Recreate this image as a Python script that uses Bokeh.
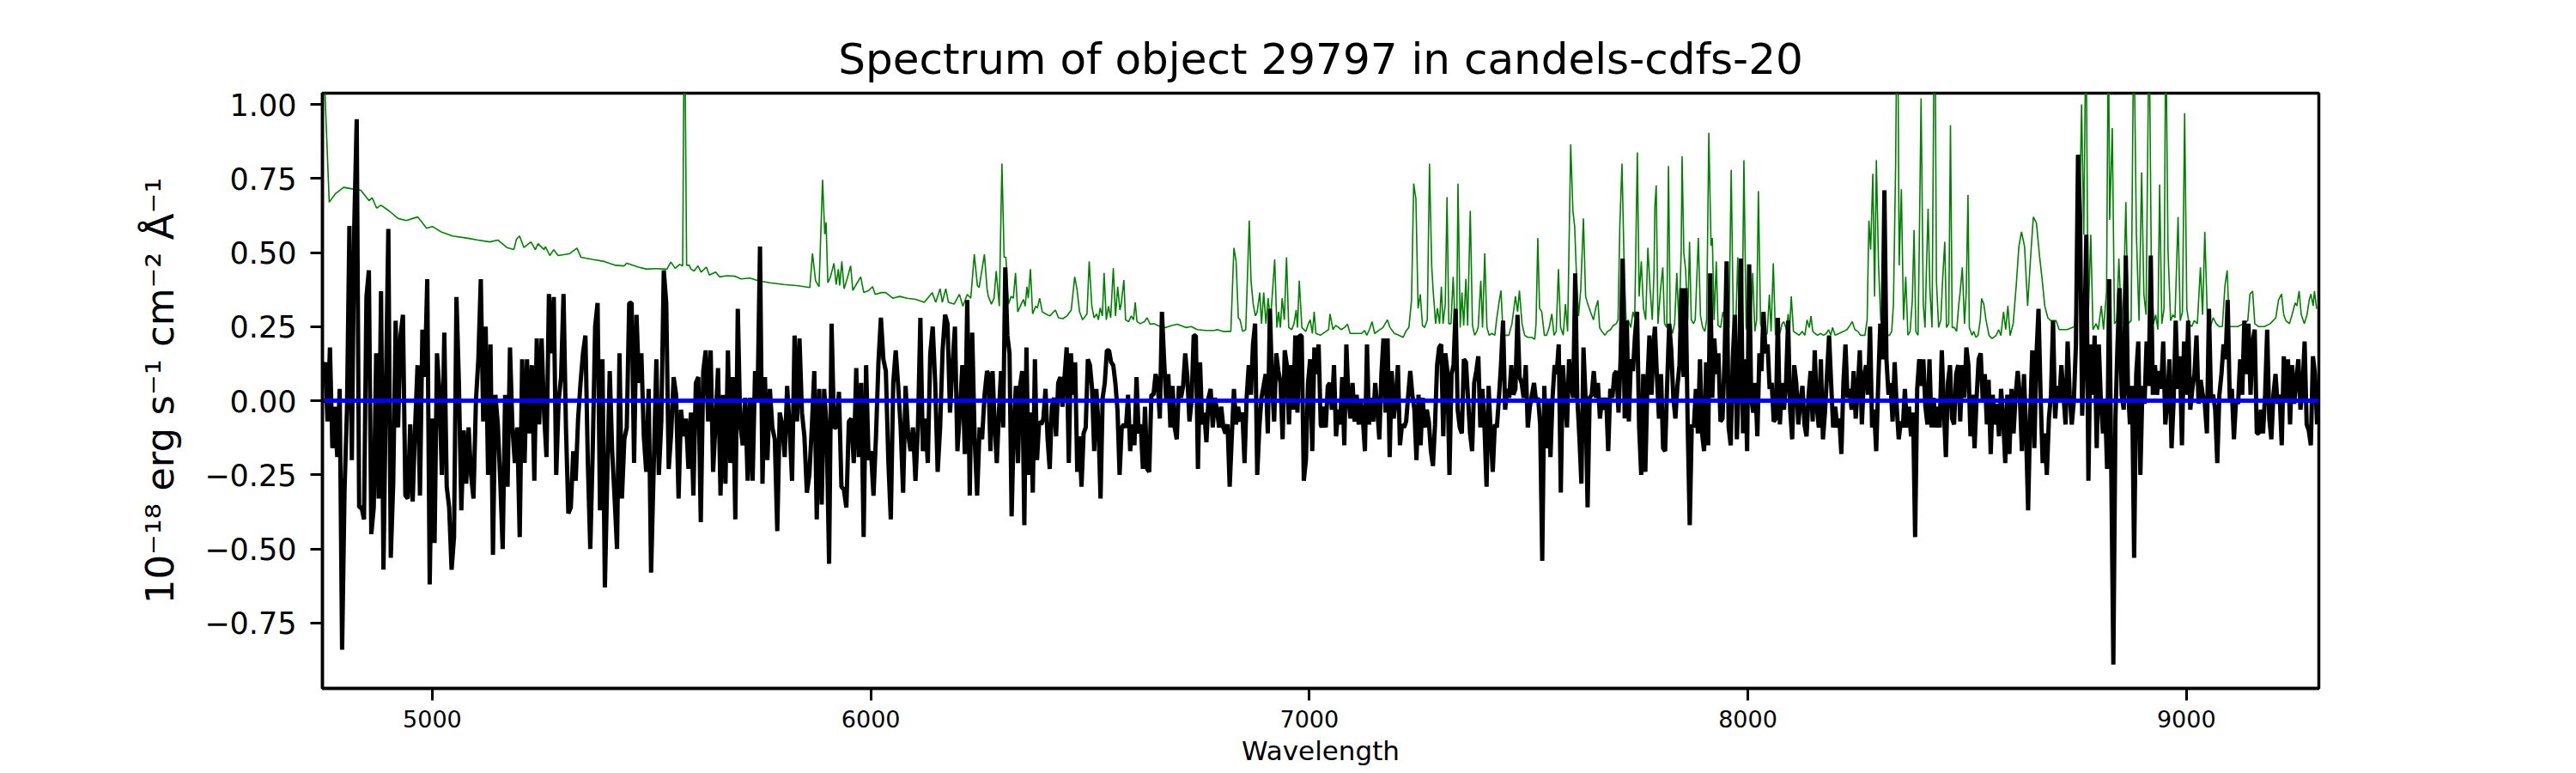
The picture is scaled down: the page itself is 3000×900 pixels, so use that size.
import numpy as np
from bokeh.plotting import figure
from bokeh.models import Range1d, FixedTicker, CustomJSTickFormatter
from bokeh.embed import file_html
from bokeh.resources import INLINE

FONT = "DejaVu Sans"
TITLE = "Spectrum of object 29797 in candels-cdfs-20"
X_LABEL = "Wavelength"
Y_LABEL = "10\u207b\u00b9\u2078 erg s\u207b\u00b9 cm\u207b\u00b2 \u00c5\u207b\u00b9"
X_TICKS = [5000, 6000, 7000, 8000, 9000]
Y_TICKS = [-0.75, -0.5, -0.25, 0.0, 0.25, 0.5, 0.75, 1.0]

# observed flux (black), read segment by segment; wavelength bounds of each segment
seg_bounds = [(4750, 5499), (5511, 6265), (6268, 7026), (7028, 7785), (7788, 8545), (8549, 9298)]

flux_seg1 = [0.09, 0.13, -0.07, 0.18, -0.16, -0.02, -0.19, 0.04, -0.84, -0.30, -0.03, 0.59, -0.20, 0.59, 0.95,
             -0.36, -0.36, -0.40, 0.35, 0.44, -0.45, -0.36, 0.16, -0.33, 0.37, -0.57, 0.04, 0.58, -0.53, -0.28,
             0.27, -0.09, 0.22, 0.29, -0.32, -0.33, -0.08, -0.34, -0.09, 0.12, -0.32, 0.24, 0.08, 0.41, -0.62,
             -0.06, -0.48, 0.16, 0.03, -0.25, 0.23, -0.29, -0.36, -0.57, -0.46, 0.35, 0.06, -0.37, -0.10, -0.28,
             -0.09, -0.25, -0.33, 0.00, 0.14, 0.41, -0.07, 0.25, -0.25, 0.19, -0.52, 0.02, -0.08, -0.27, -0.50,
             0.02, -0.29, 0.18, -0.09, -0.21, -0.09, -0.46, 0.14, -0.21, 0.14, -0.11, 0.12, -0.27, 0.21, -0.08,
             0.21, -0.04, -0.19, 0.36, 0.16, 0.35, -0.25, 0.00, 0.08, 0.36, -0.09, -0.38, -0.36, -0.17, -0.27,
             -0.06, 0.06, 0.16, 0.22, -0.21, -0.50, -0.17, 0.25, 0.33, -0.37, 0.14, -0.63, -0.25, 0.10, -0.17,
             -0.33, -0.50, 0.16, -0.33, -0.13, -0.09, 0.33, 0.33, -0.21, 0.29, 0.06, 0.16, -0.12, -0.24, 0.04,
             -0.58]
flux_seg2 = [0.14, -0.25, -0.07, 0.44, 0.33, -0.23, -0.11, 0.08, 0.02, -0.33, -0.03, -0.12, -0.06, -0.23, -0.04,
             -0.32, 0.06, 0.08, -0.41, 0.10, 0.17, -0.07, 0.17, -0.24, -0.07, 0.11, -0.32, 0.02, -0.28, 0.17,
             -0.21, 0.08, -0.40, 0.31, -0.08, -0.15, 0.01, -0.27, 0.01, -0.27, 0.10, 0.00, 0.52, -0.28, 0.08,
             -0.20, 0.04, -0.09, -0.13, -0.44, -0.04, -0.08, -0.19, 0.05, -0.09, -0.27, 0.22, -0.07, 0.21, -0.04,
             -0.12, -0.31, -0.25, -0.09, 0.10, -0.40, 0.04, -0.35, 0.04, -0.09, -0.55, 0.26, -0.09, -0.09, 0.03,
             -0.29, -0.30, -0.36, -0.07, -0.06, -0.21, 0.11, -0.19, 0.06, -0.46, 0.12, -0.20, -0.17, -0.32, -0.12,
             0.13, 0.28, 0.14, 0.10, -0.20, -0.40, 0.06, 0.17, 0.05, -0.09, -0.31, 0.05, -0.11, -0.17, -0.09,
             -0.27, -0.09, 0.28, -0.17, -0.06, -0.21, 0.16, 0.25, 0.06, -0.24, -0.09, 0.17, 0.29, 0.26, -0.04,
             0.12, 0.25, -0.17, -0.04, 0.12, -0.18, 0.34, -0.32, 0.23, -0.13, -0.32, -0.09, -0.13, 0.02, 0.10]
flux_seg3 = [0.09, -0.17, 0.10, -0.08, -0.21, -0.04, 0.10, -0.09, 0.45, 0.22, 0.16, -0.39, -0.09, 0.05, -0.21,
             0.05, 0.10, -0.42, 0.18, -0.25, -0.04, -0.31, 0.14, -0.20, -0.07, -0.08, -0.06, 0.04, -0.13, -0.23,
             -0.02, 0.01, -0.12, 0.06, 0.08, -0.02, 0.08, 0.18, -0.21, 0.16, 0.02, 0.13, -0.24, -0.12, -0.29,
             -0.11, -0.09, 0.14, 0.12, 0.04, -0.17, 0.04, -0.08, -0.33, 0.01, 0.06, 0.17, 0.17, 0.13, 0.12,
             0.06, -0.03, -0.25, -0.09, -0.08, -0.09, 0.02, -0.17, -0.08, -0.15, 0.08, -0.11, -0.08, -0.23, -0.02,
             -0.23, -0.24, 0.02, 0.02, 0.09, 0.06, -0.06, 0.30, 0.14, 0.00, 0.09, -0.09, 0.05, -0.09, -0.13,
             0.05, 0.01, 0.05, 0.16, 0.08, -0.07, 0.00, 0.22, 0.22, -0.23, 0.13, -0.08, -0.04, -0.14, 0.01,
             0.04, -0.09, 0.01, -0.03, -0.09, -0.02, -0.09, -0.11, -0.08, -0.29, -0.12, 0.04, -0.08, -0.02, -0.07,
             -0.04, -0.21, 0.01, 0.12, 0.02, 0.19, 0.26, -0.25, -0.09, 0.01, 0.05, 0.09, -0.11, 0.31, 0.06,
             -0.07, 0.16, 0.10, 0.06, -0.13, 0.17, 0.12, -0.08, 0.12, -0.03, 0.22, -0.04, 0.22, 0.22, -0.27,
             -0.20, 0.06, 0.14, -0.17, 0.18, 0.09, 0.19, -0.08]
flux_seg4 = [-0.09, -0.02, -0.09, 0.05, 0.06, -0.03, 0.12, -0.12, -0.03, -0.08, 0.08, -0.15, 0.19, 0.01, -0.06,
             0.06, -0.07, 0.02, -0.08, 0.00, -0.06, -0.17, 0.19, -0.08, 0.01, -0.07, 0.06, -0.03, -0.13, 0.09,
             0.21, -0.04, 0.21, -0.19, 0.10, -0.06, 0.01, 0.12, -0.15, -0.08, -0.09, -0.07, 0.02, 0.10, 0.02,
             -0.03, -0.20, 0.02, -0.15, 0.01, -0.09, -0.03, -0.07, -0.17, -0.22, -0.08, 0.12, 0.18, 0.19, -0.12,
             0.16, 0.10, -0.25, 0.09, 0.12, 0.31, -0.03, -0.09, -0.11, 0.14, 0.13, 0.01, -0.11, -0.17, 0.06,
             0.10, 0.15, -0.09, 0.04, -0.09, -0.29, 0.05, -0.11, -0.24, -0.08, -0.09, 0.01, 0.12, 0.27, -0.03,
             0.04, 0.01, 0.12, 0.02, 0.04, 0.29, 0.08, 0.06, 0.01, 0.12, -0.09, -0.02, 0.02, 0.06, 0.00,
             0.01, -0.08, -0.54, 0.05, -0.16, 0.00, -0.19, 0.01, 0.12, 0.09, 0.19, -0.31, 0.12, 0.01, -0.09,
             0.14, 0.06, 0.01, 0.43, 0.01, -0.12, -0.28, 0.18, 0.01, -0.36, 0.01, 0.02, 0.10, 0.01, 0.06,
             -0.06, 0.01, -0.03, 0.01, -0.17, 0.04, 0.01, 0.09, 0.10, -0.04, 0.14, 0.48, -0.06, 0.27, -0.07,
             0.14, 0.10, 0.22, 0.30, -0.09, -0.25, 0.09, -0.24, 0.06, 0.22, 0.02, 0.19]
flux_seg5 = [0.25, 0.08, -0.06, 0.09, -0.16, -0.17, 0.06, 0.26, 0.17, 0.01, -0.06, 0.05, 0.12, 0.38, 0.08,
             0.38, -0.08, -0.42, -0.08, -0.09, 0.04, -0.11, 0.14, -0.11, -0.17, 0.13, -0.15, 0.43, 0.01, 0.21,
             0.09, 0.16, -0.07, -0.06, 0.14, 0.47, -0.09, -0.15, 0.14, 0.29, -0.13, 0.06, 0.48, -0.11, 0.14,
             -0.17, 0.46, 0.01, -0.04, 0.06, -0.12, 0.16, 0.10, 0.30, 0.16, 0.19, 0.04, 0.06, -0.07, -0.06,
             0.28, -0.08, 0.06, -0.03, 0.06, 0.27, -0.03, -0.13, 0.12, 0.06, -0.08, 0.00, 0.05, -0.08, -0.12,
             0.02, 0.10, -0.07, 0.17, -0.02, -0.09, 0.14, -0.13, -0.04, 0.09, 0.22, 0.06, -0.09, -0.02, -0.09,
             -0.06, -0.18, 0.06, 0.19, 0.01, 0.04, -0.03, 0.10, -0.06, 0.04, 0.17, -0.08, 0.08, 0.12, 0.02,
             0.25, -0.09, -0.03, -0.17, 0.06, 0.26, 0.14, 0.71, 0.14, 0.02, 0.06, -0.07, 0.13, -0.02, -0.13,
             -0.07, -0.09, 0.04, -0.09, -0.02, -0.12, -0.04, -0.46, 0.04, 0.14, 0.05, 0.14, -0.02, -0.08, 0.14,
             -0.09, 0.01, -0.09, -0.02, -0.09, 0.17, -0.02, -0.19, 0.06, 0.12, -0.06, -0.08, 0.09, 0.12, -0.07,
             0.12, 0.01, 0.18, 0.12, -0.12, 0.02, -0.16, 0.01, 0.14, 0.16, 0.00, 0.09, -0.08]
flux_seg6 = [0.07, -0.18, 0.02, -0.08, -0.01, -0.12, 0.04, -0.06, -0.21, 0.02, -0.18, 0.04, -0.11, 0.02, 0.10,
             0.02, -0.17, 0.09, -0.10, -0.37, -0.05, 0.17, -0.16, 0.15, 0.31, 0.02, -0.21, -0.11, -0.25, -0.06,
             0.02, 0.27, -0.06, 0.05, 0.00, 0.12, 0.02, -0.08, 0.20, 0.02, -0.08, 0.00, 0.19, 0.83, 0.62,
             -0.05, 0.19, 0.56, -0.27, 0.19, 0.02, 0.22, -0.16, 0.19, 0.00, -0.11, 0.00, -0.23, 0.41, -0.23,
             -0.89, -0.06, 0.19, 0.38, 0.02, -0.03, 0.49, 0.05, -0.08, 0.05, -0.53, 0.09, 0.20, -0.25, 0.05,
             -0.01, 0.20, 0.05, 0.49, 0.02, 0.12, 0.02, 0.10, 0.04, 0.20, -0.08, 0.00, 0.14, -0.16, 0.00,
             0.27, 0.04, 0.15, -0.15, 0.20, 0.02, 0.27, -0.03, 0.04, 0.09, 0.22, -0.01, 0.07, 0.02, -0.01,
             -0.11, 0.31, 0.00, 0.02, -0.03, -0.21, 0.02, 0.09, 0.19, 0.14, 0.34, 0.00, 0.04, -0.13, 0.00,
             -0.01, 0.14, 0.02, 0.27, 0.09, 0.26, 0.02, 0.20, 0.24, -0.11, -0.11, -0.03, -0.11, 0.02, 0.24,
             -0.06, -0.13, 0.02, 0.09, -0.01, 0.02, -0.15, 0.15, 0.00, 0.14, -0.08, 0.12, -0.01, 0.07, 0.14,
             -0.03, 0.04, 0.20, -0.08, -0.10, -0.15, 0.15, 0.09, -0.08]
flux_segments = [flux_seg1, flux_seg2, flux_seg3, flux_seg4, flux_seg5, flux_seg6]

# noise / sky spectrum (green): wavelength and value pairs
green_wave = [4750, 4755, 4765, 4780, 4798, 4817, 4837, 4856, 4863, 4873, 4883, 4902, 4922, 4941, 4955, 4967,
              4987, 5000, 5020, 5046, 5078, 5104, 5131, 5150, 5170, 5186, 5192, 5199, 5209, 5225, 5235, 5241,
              5255, 5258, 5268, 5277, 5287, 5313, 5330, 5339, 5365, 5392, 5418, 5437, 5444, 5470, 5489, 5508,
              5535, 5544, 5554, 5564, 5571, 5575, 5580, 5586, 5590, 5597, 5606, 5613, 5625, 5632, 5646, 5655,
              5672, 5691, 5704, 5724, 5743, 5770, 5802, 5835, 5861, 5867, 5874, 5882, 5890, 5895, 5898, 5902,
              5908, 5916, 5921, 5926, 5929, 5934, 5939, 5946, 5954, 5959, 5969, 5977, 5984, 5995, 6004, 6010,
              6024, 6034, 6050, 6066, 6083, 6102, 6122, 6140, 6148, 6158, 6163, 6171, 6177, 6190, 6202, 6210,
              6220, 6228, 6236, 6243, 6247, 6259, 6265,
              6268, 6275, 6281, 6286, 6293, 6299, 6304, 6308, 6314, 6320, 6325, 6330, 6335, 6343, 6348, 6352,
              6356, 6359, 6364, 6369, 6376, 6380, 6385, 6391, 6399, 6408, 6417, 6421, 6428, 6438, 6447, 6457,
              6465, 6470, 6476, 6483, 6493, 6498, 6504, 6509, 6515, 6519, 6523, 6528, 6532, 6537, 6542, 6547,
              6553, 6558, 6563, 6568, 6571, 6577, 6581, 6588, 6594, 6599, 6603, 6607, 6614, 6624, 6630, 6637,
              6646, 6660, 6673, 6686, 6699, 6718, 6731, 6744, 6764, 6784, 6790, 6803, 6821, 6828, 6833, 6838,
              6842, 6848, 6855, 6863, 6867, 6872, 6877, 6881, 6887, 6891, 6896, 6901, 6906, 6911, 6915, 6921,
              6926, 6930, 6934, 6938, 6943, 6948, 6953, 6960, 6965, 6970, 6973, 6977, 6983, 6992, 6998, 7002,
              7007, 7011, 7015, 7025,
              7038, 7044, 7047, 7054, 7060, 7067, 7073, 7080, 7087, 7093, 7106, 7119, 7126, 7131, 7137, 7143,
              7149, 7158, 7168, 7178, 7184, 7194, 7204, 7214, 7220, 7227, 7233, 7238, 7243, 7248, 7253, 7258,
              7263, 7269, 7274, 7279, 7282, 7288, 7292, 7297, 7301, 7305, 7310, 7314, 7318, 7323, 7328, 7332,
              7336, 7339, 7344, 7348, 7352, 7357, 7361, 7367, 7372, 7377, 7382, 7385, 7391, 7395, 7400, 7405,
              7410, 7416, 7423, 7427, 7432, 7437, 7442, 7449, 7455, 7462, 7466, 7470, 7475, 7479, 7485, 7491,
              7498, 7507, 7514, 7517, 7521, 7525, 7530, 7536, 7541, 7547, 7553, 7558, 7563, 7568, 7573, 7579,
              7584, 7589, 7596, 7601, 7605, 7610, 7614, 7619, 7625, 7630, 7635, 7641, 7648, 7653, 7658, 7662,
              7667, 7674, 7680, 7687, 7693, 7700, 7704, 7708, 7713, 7718, 7723, 7727, 7733, 7738, 7742, 7748,
              7752, 7757, 7762, 7767, 7772, 7777, 7782, 7786,
              7788, 7791, 7795, 7801, 7806, 7810, 7815, 7819, 7823, 7828, 7833, 7838, 7843, 7848, 7850, 7854,
              7858, 7863, 7867, 7871, 7876, 7880, 7887, 7892, 7897, 7902, 7906, 7911, 7916, 7919, 7923, 7928,
              7932, 7938, 7943, 7947, 7952, 7957, 7962, 7967, 7972, 7977, 7981, 7987, 7991, 7996, 8002, 8006,
              8011, 8016, 8020, 8024, 8029, 8034, 8039, 8044, 8049, 8053, 8058, 8063, 8068, 8073, 8078, 8082,
              8088, 8092, 8095, 8099, 8104, 8111, 8117, 8124, 8130, 8135, 8140, 8144, 8148, 8153, 8159, 8166,
              8173, 8179, 8184, 8189, 8193, 8199, 8208, 8218, 8226, 8231, 8238, 8244, 8251, 8257, 8267, 8272,
              8276, 8280, 8285, 8289, 8293, 8298, 8303, 8310, 8316, 8323, 8328, 8332, 8337, 8341, 8345, 8350,
              8355, 8360, 8365, 8370, 8375, 8379, 8383, 8388, 8391, 8395, 8400, 8404, 8407, 8411, 8415, 8420,
              8426, 8430, 8435, 8440, 8444, 8449, 8453, 8458, 8462, 8466, 8471, 8476, 8481, 8484, 8489, 8494,
              8498, 8502, 8505, 8511, 8515, 8520, 8525, 8530, 8533, 8538, 8543,
              8550, 8557, 8566, 8572, 8577, 8583, 8588, 8593, 8598, 8605, 8612, 8618, 8624, 8631, 8638, 8645,
              8651, 8658, 8665, 8671, 8677, 8684, 8691, 8703, 8710, 8728, 8745, 8749, 8756, 8761, 8766, 8771,
              8776, 8782, 8787, 8794, 8799, 8806, 8811, 8818, 8822, 8825, 8831, 8836, 8841, 8846, 8852, 8857,
              8862, 8867, 8874, 8880, 8886, 8892, 8898, 8903, 8908, 8915, 8920, 8925, 8930, 8935, 8939, 8944,
              8949, 8953, 8958, 8964, 8969, 8974, 8981, 8986, 8991, 8996, 9001, 9006, 9012, 9018, 9025, 9032,
              9037, 9042, 9048, 9055, 9061, 9068, 9075, 9082, 9088, 9093, 9098, 9105, 9117, 9130, 9140, 9145,
              9151, 9156, 9165, 9178, 9191, 9204, 9210, 9217, 9222, 9227, 9235, 9241, 9248, 9252, 9257, 9262,
              9269, 9275, 9280, 9284, 9289, 9292, 9297]
green_flux = [1.60, 1.05, 0.67, 0.70, 0.72, 0.715, 0.71, 0.675, 0.685, 0.65, 0.66, 0.64, 0.615, 0.608, 0.615, 0.62,
              0.582, 0.588, 0.570, 0.556, 0.549, 0.542, 0.536, 0.542, 0.517, 0.510, 0.545, 0.556, 0.517, 0.536, 0.510, 0.530,
              0.510, 0.520, 0.490, 0.510, 0.490, 0.496, 0.515, 0.484, 0.477, 0.470, 0.457, 0.455, 0.464, 0.451, 0.444, 0.446,
              0.444, 0.468, 0.447, 0.460, 0.455, 1.40, 0.457, 0.457, 0.444, 0.438, 0.455, 0.434, 0.451, 0.424, 0.434, 0.418,
              0.422, 0.420, 0.411, 0.414, 0.405, 0.398, 0.392, 0.388, 0.382, 0.497, 0.405, 0.385, 0.746, 0.562, 0.602, 0.398,
              0.418, 0.464, 0.392, 0.444, 0.389, 0.470, 0.378, 0.411, 0.455, 0.372, 0.398, 0.418, 0.365, 0.372, 0.385, 0.359,
              0.365, 0.365, 0.346, 0.352, 0.346, 0.342, 0.332, 0.365, 0.332, 0.378, 0.332, 0.378, 0.332, 0.326, 0.359, 0.319,
              0.359, 0.346, 0.494, 0.389, 0.382, 0.494, 0.378,
              0.352, 0.326, 0.346, 0.438, 0.319, 0.800, 0.484, 0.484, 0.326, 0.352, 0.346, 0.431, 0.300, 0.326, 0.342, 0.319,
              0.385, 0.346, 0.444, 0.293, 0.319, 0.313, 0.346, 0.300, 0.293, 0.286, 0.300, 0.306, 0.280, 0.277, 0.286, 0.306,
              0.418, 0.378, 0.300, 0.273, 0.293, 0.470, 0.319, 0.280, 0.293, 0.273, 0.313, 0.286, 0.431, 0.273, 0.319, 0.280,
              0.447, 0.286, 0.385, 0.306, 0.326, 0.407, 0.273, 0.267, 0.286, 0.273, 0.332, 0.267, 0.260, 0.267, 0.280, 0.258,
              0.260, 0.250, 0.247, 0.254, 0.258, 0.247, 0.250, 0.240, 0.237, 0.237, 0.240, 0.234, 0.234, 0.516, 0.470, 0.280,
              0.273, 0.234, 0.240, 0.608, 0.405, 0.326, 0.286, 0.300, 0.365, 0.260, 0.365, 0.260, 0.346, 0.273, 0.346, 0.477,
              0.247, 0.300, 0.247, 0.346, 0.273, 0.484, 0.247, 0.240, 0.260, 0.306, 0.247, 0.405, 0.247, 0.234, 0.260, 0.273,
              0.227, 0.300, 0.227, 0.221,
              0.234, 0.240, 0.293, 0.240, 0.254, 0.247, 0.240, 0.247, 0.258, 0.227, 0.227, 0.227, 0.237, 0.221, 0.240, 0.267,
              0.227, 0.237, 0.247, 0.273, 0.247, 0.227, 0.221, 0.214, 0.234, 0.247, 0.339, 0.733, 0.681, 0.312, 0.359, 0.254,
              0.247, 0.273, 0.800, 0.457, 0.378, 0.260, 0.312, 0.260, 0.385, 0.260, 0.326, 0.687, 0.260, 0.260, 0.418, 0.273,
              0.247, 0.733, 0.247, 0.365, 0.254, 0.411, 0.254, 0.641, 0.254, 0.221, 0.234, 0.247, 0.405, 0.247, 0.497, 0.247,
              0.221, 0.227, 0.221, 0.273, 0.326, 0.372, 0.221, 0.221, 0.221, 0.260, 0.306, 0.352, 0.300, 0.372, 0.260, 0.221,
              0.214, 0.214, 0.207, 0.260, 0.549, 0.312, 0.300, 0.221, 0.221, 0.247, 0.293, 0.221, 0.234, 0.444, 0.247, 0.221,
              0.326, 0.234, 0.865, 0.641, 0.589, 0.390, 0.286, 0.378, 0.615, 0.352, 0.326, 0.300, 0.273, 0.312, 0.339, 0.247,
              0.234, 0.221, 0.234, 0.240, 0.254, 0.260, 0.273, 0.589, 0.800, 0.444, 0.247, 0.273, 0.247, 0.300, 0.280, 0.838,
              0.352, 0.470, 0.312, 0.273, 0.516, 0.378, 0.273, 0.431,
              0.654, 0.727, 0.260, 0.378, 0.450, 0.260, 0.247, 0.792, 0.260, 0.227, 0.260, 0.431, 0.247, 0.509, 0.825, 0.497,
              0.444, 0.273, 0.536, 0.273, 0.260, 0.273, 0.549, 0.286, 0.247, 0.234, 0.273, 0.904, 0.523, 0.549, 0.273, 0.470,
              0.254, 0.247, 0.300, 0.273, 0.273, 0.247, 0.779, 0.247, 0.234, 0.484, 0.234, 0.247, 0.812, 0.247, 0.221, 0.227,
              0.431, 0.234, 0.273, 0.707, 0.260, 0.234, 0.221, 0.227, 0.358, 0.234, 0.464, 0.221, 0.240, 0.227, 0.260, 0.267,
              0.240, 0.293, 0.234, 0.352, 0.234, 0.227, 0.221, 0.234, 0.221, 0.273, 0.247, 0.286, 0.234, 0.227, 0.221, 0.227,
              0.221, 0.227, 0.240, 0.221, 0.247, 0.221, 0.227, 0.234, 0.240, 0.250, 0.267, 0.240, 0.234, 0.221, 0.221, 0.273,
              0.608, 0.510, 0.766, 0.352, 0.812, 0.457, 0.273, 0.234, 0.221, 0.221, 0.234, 0.326, 0.799, 1.50, 0.457, 0.714,
              0.273, 0.418, 0.221, 0.234, 0.339, 0.576, 0.234, 0.221, 0.536, 1.02, 0.326, 0.247, 0.431, 0.648, 0.378, 0.247,
              1.50, 0.405, 0.247, 0.273, 0.405, 0.536, 0.247, 0.260, 0.930, 0.247, 0.247, 0.234, 0.326, 0.365, 0.450, 0.260,
              0.365, 0.694, 0.247, 0.221, 0.234, 0.214, 0.221, 0.273, 0.345, 0.326, 0.273,
              0.22, 0.21, 0.22, 0.24, 0.22, 0.30, 0.24, 0.32, 0.22, 0.26, 0.39, 0.52, 0.57, 0.52, 0.32, 0.49,
              0.62, 0.60, 0.49, 0.41, 0.32, 0.28, 0.27, 0.27, 0.24, 0.24, 0.25, 0.36, 0.57, 1.00, 0.56, 1.30,
              0.27, 0.56, 0.24, 0.26, 0.24, 0.32, 0.24, 0.37, 1.30, 0.61, 0.92, 0.26, 0.27, 0.48, 0.26, 0.36,
              0.67, 0.26, 0.27, 1.30, 0.56, 0.27, 0.77, 0.36, 0.29, 1.30, 0.46, 0.26, 0.29, 0.24, 0.73, 0.26,
              0.31, 1.30, 0.51, 0.27, 0.29, 0.28, 0.62, 0.27, 0.30, 0.97, 0.31, 0.26, 0.25, 0.27, 0.26, 0.45,
              0.29, 0.57, 0.27, 0.25, 0.28, 0.26, 0.25, 0.25, 0.39, 0.44, 0.25, 0.25, 0.25, 0.26, 0.27, 0.36,
              0.37, 0.26, 0.25, 0.25, 0.26, 0.28, 0.34, 0.36, 0.29, 0.27, 0.26, 0.29, 0.33, 0.32, 0.37, 0.29,
              0.26, 0.29, 0.34, 0.36, 0.32, 0.37, 0.31]

# model / continuum (blue)
model_wave = [4750, 9302]
model_flux = [0.0, 0.0]

X_RANGE = (4749.5, 9302.0)
Y_RANGE = (-0.9705, 1.0377)

flux_wave = np.concatenate([np.linspace(a, b, len(f)) for (a, b), f in zip(seg_bounds, flux_segments)])
flux_vals = np.concatenate([np.asarray(f, dtype=float) for f in flux_segments])

p = figure(width=3000, height=900, output_backend="svg", toolbar_location=None,
           x_range=Range1d(*X_RANGE), y_range=Range1d(*Y_RANGE),
           min_border_left=375, min_border_right=300, min_border_top=108, min_border_bottom=99,
           background_fill_color="white", border_fill_color="white")

p.title.text = TITLE
p.title.text_font = FONT
p.title.text_font_size = "50px"
p.title.text_font_style = "normal"
p.title.align = "center"
p.title.text_color = "black"
p.title.standoff = 22

p.grid.visible = False
p.outline_line_color = "black"
p.outline_line_width = 3.5

for ax in (p.xaxis[0], p.yaxis[0]):
    ax.axis_line_color = "black"
    ax.axis_line_width = 3.5
    ax.major_tick_line_color = "black"
    ax.major_tick_line_width = 3
    ax.major_tick_out = 14
    ax.major_tick_in = 0
    ax.minor_tick_line_color = None
    ax.major_label_text_font = FONT
    ax.major_label_text_color = "black"
    ax.axis_label_text_font = FONT
    ax.axis_label_text_font_style = "normal"
    ax.axis_label_text_color = "black"

p.xaxis.ticker = FixedTicker(ticks=X_TICKS)
p.xaxis.major_label_text_font_size = "27px"
p.xaxis.major_label_standoff = 11
p.xaxis.axis_label = X_LABEL
p.xaxis.axis_label_text_font_size = "31px"
p.xaxis.axis_label_standoff = 6

p.yaxis.ticker = FixedTicker(ticks=Y_TICKS)
p.yaxis.formatter = CustomJSTickFormatter(code="return tick.toFixed(2).replace('-', '\u2212');")
p.yaxis.major_label_text_font_size = "35px"
p.yaxis.major_label_standoff = 16
p.yaxis.axis_label = Y_LABEL
p.yaxis.axis_label_text_font_size = "45px"
p.yaxis.axis_label_standoff = 22

p.line(green_wave, green_flux, line_color="#008000", line_width=1.6)
p.line(flux_wave, flux_vals, line_color="black", line_width=5)
p.line(model_wave, model_flux, line_color="#0000ff", line_width=5)

with open("out.html", "w", encoding="utf-8") as fh:
    fh.write(file_html(p, INLINE))
